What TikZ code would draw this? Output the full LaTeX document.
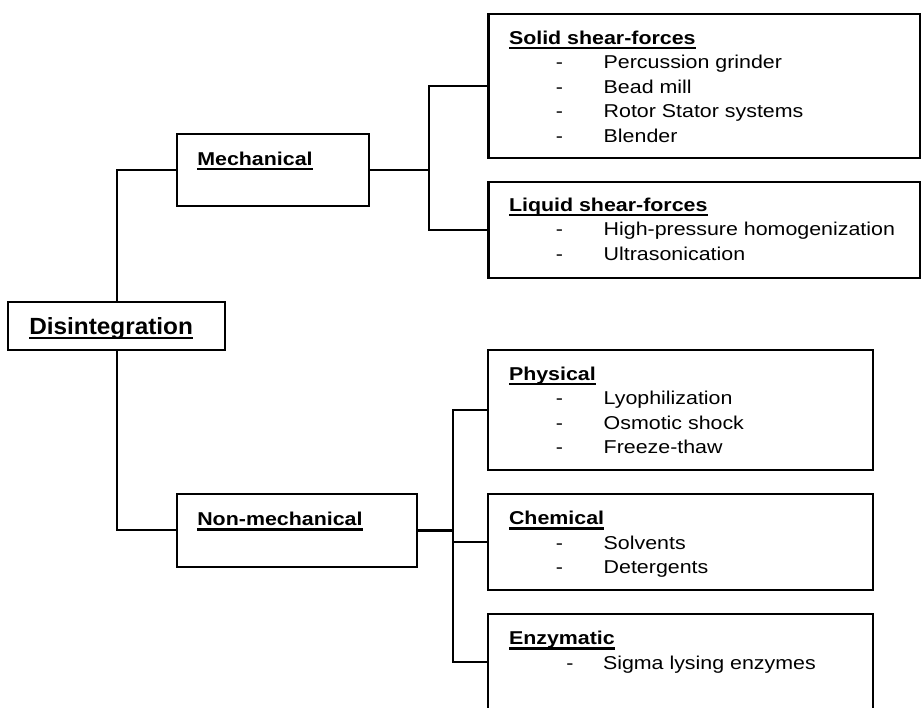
\documentclass[tikz,border=0pt]{standalone}
\usepackage{fontspec}
\setmainfont{Liberation Sans}
\newfontfamily\bodyfont[FakeStretch=1.15]{Liberation Sans}
\newfontfamily\disfont[FakeStretch=1.04]{Liberation Sans}
\newcommand\ulh[1]{\setbox0=\hbox{#1}\rlap{\rule[-4.8pt]{\wd0}{2.7pt}}\box0}
\newcommand\uld[1]{\setbox0=\hbox{#1}\rlap{\rule[-4.5pt]{\wd0}{2.8pt}}\box0}
\begin{document}
\begin{tikzpicture}[x=1pt,y=-1pt,
  box/.style={draw=black, line width=2.1pt, inner sep=0pt, outer sep=0pt},
  conn/.style={line width=1.9pt},
  thickconn/.style={line width=2.9pt},
  txt/.style={anchor=base west, inner sep=0pt, outer sep=0pt,
    font=\bodyfont\fontsize{18.6pt}{24.4pt}\selectfont},
  head/.style={txt, font=\bodyfont\bfseries\fontsize{18.6pt}{24.4pt}\selectfont},
  dishead/.style={anchor=base west, inner sep=0pt, outer sep=0pt,
    font=\disfont\bfseries\fontsize{23.4pt}{28pt}\selectfont}]
\useasboundingbox (0,0) rectangle (921,708);

% boxes
\node[box, minimum width=217pt, minimum height=48pt] (dis) at (116.8,326) {};
\node[box, minimum width=192.6pt, minimum height=72pt] (mech) at (273,170) {};
\node[box, minimum width=240.3pt, minimum height=72.6pt] (nonmech) at (296.85,530.3) {};
\node[box, minimum width=431.5pt, minimum height=144pt] (solid) at (704.25,86) {};
\node[box, minimum width=431.5pt, minimum height=96pt] (liquid) at (704.25,230) {};
\node[box, minimum width=385pt, minimum height=120pt] (phys) at (680.8,410) {};
\node[box, minimum width=385pt, minimum height=96pt] (chem) at (680.8,542) {};
\node[box, minimum width=385pt, minimum height=95.7pt] (enz) at (680.8,662.15) {};

% junctions
\coordinate (mj) at (428.7,170);
\coordinate (nj) at (452.7,530.3);

% connectors
\draw[conn] (dis.north) |- (mech.west);
\draw[conn] (dis.south) |- (nonmech.west);
\draw[conn] (mech.east) -- (mj);
\draw[conn] (solid.west) -| (mj) |- (liquid.west);
\draw[thickconn] (nonmech.east) -- (nj);
\draw[conn] (phys.west) -| (nj) |- (enz.west);
\draw[conn] (nj |- chem.west) -- (chem.west);

% labels
\node[dishead] (tdis) at (29.3,335) {\uld{Disintegration}};
\node[head] (tmech) at (197.3,165.7) {\ulh{Mechanical}};
\node[head] (tnon) at (197.3,525.7) {\ulh{Non-mechanical}};

\node[head] (tsolid) at (509,44.5) {\ulh{Solid shear-forces}};
\node[txt] (ds1) at (555.8,68.9) {-};
\node[txt] (s1) at (603.7,68.9) {Percussion grinder};
\node[txt] (ds2) at (555.8,93.3) {-};
\node[txt] (s2) at (603.7,93.3) {Bead mill};
\node[txt] (ds3) at (555.8,117.7) {-};
\node[txt] (s3) at (603.7,117.7) {Rotor Stator systems};
\node[txt] (ds4) at (555.8,142.1) {-};
\node[txt] (s4) at (603.7,142.1) {Blender};

\node[head] (tliquid) at (509,211.5) {\ulh{Liquid shear-forces}};
\node[txt] (dl1) at (555.8,235.9) {-};
\node[txt] (l1) at (603.7,235.9) {High-pressure homogenization};
\node[txt] (dl2) at (555.8,260.3) {-};
\node[txt] (l2) at (603.7,260.3) {Ultrasonication};

\node[head] (tphys) at (509,380.5) {\ulh{Physical}};
\node[txt] (dp1) at (555.8,404.9) {-};
\node[txt] (p1) at (603.7,404.9) {Lyophilization};
\node[txt] (dp2) at (555.8,429.3) {-};
\node[txt] (p2) at (603.7,429.3) {Osmotic shock};
\node[txt] (dp3) at (555.8,453.7) {-};
\node[txt] (p3) at (603.7,453.7) {Freeze-thaw};

\node[head] (tchem) at (509,524.7) {\ulh{Chemical}};
\node[txt] (dc1) at (555.8,549.1) {-};
\node[txt] (c1) at (603.7,549.1) {Solvents};
\node[txt] (dc2) at (555.8,573.5) {-};
\node[txt] (c2) at (603.7,573.5) {Detergents};

\node[head] (tenz) at (509,644.7) {\ulh{Enzymatic}};
\node[txt] (de1) at (566.4,669.1) {-};
\node[txt] (e1) at (603,669.1) {Sigma lysing enzymes};
\end{tikzpicture}
\end{document}
